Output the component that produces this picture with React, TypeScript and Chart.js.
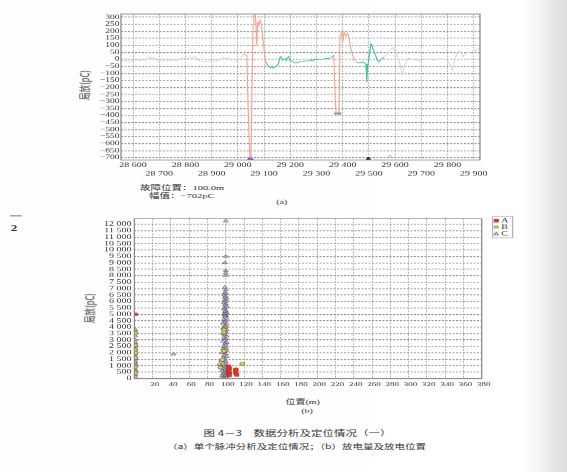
import React, { useEffect, useRef } from 'react';
import { Chart, registerables } from 'chart.js';

Chart.register(...registerables);

// The scanned page is squeezed vertically; we lay out in "logical" units and scale Y.
const SY = 0.66;
const PAGE_W = 567;
const PAGE_H = 472 / SY;

const SERIF = '"Liberation Serif", "Times New Roman", serif';
const MIXED = '"Liberation Serif", "Noto Sans CJK SC", serif';
const CJK = '"Noto Sans CJK SC", "Liberation Serif", sans-serif';
const INK = '#333';

// ---------------- Chart (a): single pulse trace ----------------
const traceXTicks = [28600, 28700, 28800, 28900, 29000, 29100, 29200, 29300, 29400, 29500, 29600, 29700, 29800, 29900];
const traceYTicks = [300, 250, 200, 150, 100, 50, 0, -50, -100, -150, -200, -250, -300, -350, -400, -450, -500, -550, -600, -650, -700];

const fadedLeftX = [28554, 28565, 28575, 28585, 28595, 28605, 28615, 28625, 28635, 28645, 28655, 28662, 28670, 28678, 28686, 28695, 28705, 28715, 28725, 28735, 28745, 28755, 28765, 28775, 28785, 28795, 28805, 28815, 28825, 28835, 28845, 28855, 28865, 28875, 28885, 28895, 28905, 28915, 28925, 28935, 28945, 28955, 28965, 28975, 28985, 28995, 29005, 29015, 29022];
const fadedLeftY = [-8, -14, -6, -15, -7, -12, -2, -10, 0, -8, 8, 18, 6, 14, 0, -10, -15, -8, -13, -4, -11, -2, -8, 2, 6, 12, 0, 16, 8, 20, 4, -14, -20, -10, -18, -8, -16, -4, -12, 6, 16, 4, 12, -6, 2, -12, 4, 20, 35];

const pulse1X = [29022, 29034, 29040, 29046, 29050, 29054, 29058, 29061, 29066, 29070, 29072, 29075, 29079, 29082, 29085, 29089, 29093, 29097, 29102, 29107];
const pulse1Y = [35, 30, -400, -702, -702, -200, 250, 360, 360, 200, 100, 270, 240, 260, 280, 250, 200, 120, 40, -20];

const mid1X = [29107, 29116, 29125, 29130, 29135, 29145, 29154, 29160, 29164, 29170, 29179, 29185, 29189, 29194, 29198, 29207, 29217, 29230, 29240, 29249, 29260, 29268, 29280, 29287, 29296, 29306, 29315, 29325, 29338, 29345, 29351, 29361, 29366];
const mid1Y = [-20, -45, -60, -50, -62, -50, -35, 10, 20, -5, 5, -8, 15, 20, -5, -15, -25, -20, -15, -18, -10, -12, -5, -8, 0, -3, 2, 0, 8, 5, 12, 18, 30];

const pulse2X = [29366, 29372, 29375, 29381, 29386, 29390, 29396, 29400, 29405, 29412, 29419, 29425, 29430, 29438, 29447, 29453];
const pulse2Y = [30, -300, -385, -385, -380, 170, 190, 120, 195, 165, 185, 150, 80, 30, -10, -20];

const mid2X = [29453, 29466, 29475, 29481, 29489, 29492, 29494, 29498, 29504, 29508, 29513, 29519, 29527, 29533, 29538, 29545, 29552, 29557];
const mid2Y = [-20, -25, -18, -22, -35, -160, -70, -20, 60, 110, 90, 55, 20, -10, -20, 0, 5, 15];

const fadedRightX = [29557, 29565, 29573, 29583, 29592, 29605, 29618, 29628, 29637, 29650, 29669, 29694, 29720, 29745, 29771, 29796, 29811, 29819, 29828, 29837, 29847, 29860, 29872, 29885, 29898, 29911, 29924];
const fadedRightY = [15, 30, 45, 70, 85, 40, -30, -110, -40, 10, 0, -10, 5, -5, 5, 0, -40, -80, 0, 50, 60, 20, 45, 50, 40, 70, 80];

const markerX = [29048, 29381, 29498, 29580];
const markerY = [-708, -386, -708, -694];

// ---------------- Chart (b): discharge magnitude vs position ----------------
const posTicks = [0, 20, 40, 60, 80, 100, 120, 140, 160, 180, 200, 220, 240, 260, 280, 300, 320, 340, 360, 380];
const chargeTicks = [0, 500, 1000, 1500, 2000, 2500, 3000, 3500, 4000, 4500, 5000, 5500, 6000, 6500, 7000, 7500, 8000, 8500, 9000, 9500, 10000, 10500, 11000, 11500, 12000];

const aX = [1, 103, 104, 103, 104, 103, 104, 111, 111, 111, 112];
const aY = [5000, 950, 800, 650, 500, 350, 250, 700, 550, 400, 280];

const bX = [1, 1, 1, 1, 1, 1, 1, 98, 98, 98, 96, 94, 111, 118];
const bY = [3540, 2600, 2200, 2000, 1600, 900, 450, 3800, 3600, 2150, 1450, 850, 720, 1150];

const cX = [
  1, 1, 1, 1, 1, 1, 1, 1, 1, 1, 1, 1, 1, 1, 1, 1, 1,
  43,
  100, 100, 99, 100, 100, 100,
  99, 100, 99, 100, 98, 100, 99, 101, 99, 100, 98, 100, 99, 101, 99, 98, 100, 99, 101, 98,
  100, 99, 101, 98, 100, 99, 97, 101, 99, 100, 97, 101, 99, 100, 97, 99, 101, 98, 100, 99,
  97, 101, 99, 100, 98, 100, 97, 101, 99, 96, 100, 98, 101, 97, 99, 95, 100, 97, 93, 101,
  98, 95, 100, 97, 102, 99, 96, 101, 98, 100, 97, 102, 99, 96, 101, 98, 100, 97, 99, 100,
];
const cY = [
  3800, 3600, 3300, 3000, 2800, 2500, 2300, 1900, 1700, 1500, 1300, 1150, 1000, 700, 600, 300, 150,
  1900,
  12250, 9500, 9000, 8400, 8200, 8000,
  7100, 6900, 6700, 6600, 6500, 6400, 6300, 6200, 6100, 6000, 5900, 5800, 5700, 5600, 5500, 5400, 5300, 5200, 5100, 5000,
  4900, 4800, 4700, 4600, 4500, 4400, 4300, 4200, 4100, 4000, 3900, 3800, 3700, 3600, 3500, 3400, 3300, 3200, 3100, 3000,
  2900, 2800, 2700, 2600, 2500, 2400, 2300, 2200, 2100, 2000, 1900, 1800, 1700, 1600, 1500, 1400, 1300, 1200, 1100, 1050,
  1000, 950, 900, 800, 750, 700, 600, 550, 500, 400, 350, 300, 250, 200, 150, 100, 50, 20, 4950, 5050,
];

// ---------------- helpers ----------------
const zip = (xs: number[], ys: number[]) => xs.map((x, i) => ({ x, y: ys[i] }));

const spaced = (v: number) => {
  const a = Math.abs(v);
  const s = a >= 1000 ? `${Math.floor(a / 1000)} ${String(a % 1000).padStart(3, '0')}` : String(a);
  return (v < 0 ? '\u2212' : '') + s;
};

const framePlugin = {
  id: 'frame',
  afterDraw(chart: any) {
    const { ctx, chartArea: a } = chart;
    ctx.save();
    ctx.strokeStyle = '#8c8c8c';
    ctx.lineWidth = 1.3;
    ctx.setLineDash([]);
    ctx.strokeRect(a.left, a.top, a.right - a.left, a.bottom - a.top);
    ctx.restore();
  },
};

const boxLegendPlugin = {
  id: 'boxLegend',
  afterDraw(chart: any) {
    const ctx = chart.ctx as CanvasRenderingContext2D;
    const bx = 432.7, by = 28.3, bw = 20, bh = 31.9;
    ctx.save();
    ctx.fillStyle = '#fff';
    ctx.fillRect(bx, by, bw, bh);
    ctx.strokeStyle = '#a0a0a0';
    ctx.lineWidth = 1;
    ctx.strokeRect(bx, by, bw, bh);
    const rows = [34.4, 44, 54];
    chart.data.datasets.forEach((ds: any, i: number) => {
      const y = rows[i];
      const mx = bx + 3.6;
      ctx.fillStyle = ds.backgroundColor;
      ctx.strokeStyle = ds.borderColor;
      ctx.lineWidth = 0.8;
      ctx.beginPath();
      if (ds.pointStyle === 'rect') {
        ctx.rect(mx - 2, y - 2.2, 4, 4.4);
      } else if (ds.pointStyle === 'circle') {
        ctx.arc(mx, y, 2, 0, Math.PI * 2);
      } else {
        ctx.moveTo(mx, y - 2.6);
        ctx.lineTo(mx + 2.3, y + 2);
        ctx.lineTo(mx - 2.3, y + 2);
        ctx.closePath();
      }
      ctx.fill();
      ctx.stroke();
      ctx.fillStyle = INK;
      ctx.font = `10px ${SERIF}`;
      ctx.textBaseline = 'middle';
      ctx.textAlign = 'left';
      ctx.fillText(ds.label, bx + 8.5, y);
    });
    ctx.restore();
  },
};

const traceSeg = (xs: number[], ys: number[], color: string) => ({
  data: zip(xs, ys),
  borderColor: color,
  backgroundColor: color,
  borderWidth: 1.1,
  pointRadius: 0,
  tension: 0,
  fill: false,
});

const Txt = ({ x, y, size, font, children, align = 'center', rotate = false, weight = 'normal' }: any) => (
  <div
    style={{
      position: 'absolute',
      left: x,
      top: y,
      transform:
        (align === 'center' ? 'translate(-50%, -50%)' : 'translate(0, -50%)') + (rotate ? ' rotate(-90deg)' : ''),
      fontSize: size,
      fontFamily: font,
      fontWeight: weight,
      color: INK,
      whiteSpace: 'nowrap',
      lineHeight: 1,
    }}
  >
    {children}
  </div>
);

export default function App() {
  const refA = useRef<HTMLCanvasElement>(null);
  const refB = useRef<HTMLCanvasElement>(null);

  useEffect(() => {
    const tickFont = (size: number, lh = 1.2) => ({ family: SERIF, size, lineHeight: lh });

    const markerStyles = [
      { pointStyle: 'triangle', pointRadius: 3.5, backgroundColor: '#7468d0', borderColor: '#5a4fb0', borderWidth: 1 },
      { pointStyle: 'line', pointRadius: 3.5, backgroundColor: '#8a6cc8', borderColor: '#8a6cc8', borderWidth: 3 },
      { pointStyle: 'triangle', pointRadius: 2.5, backgroundColor: '#222', borderColor: '#222', borderWidth: 1 },
      { pointStyle: 'triangle', pointRadius: 3, backgroundColor: 'rgba(0,0,0,0)', borderColor: '#a8a8a8', borderWidth: 0.8 },
    ];

    const chartA = new Chart(refA.current as HTMLCanvasElement, {
      type: 'line',
      data: {
        datasets: [
          traceSeg(fadedLeftX, fadedLeftY, '#cadfce'),
          traceSeg(pulse1X, pulse1Y, '#f3a292'),
          traceSeg(mid1X, mid1Y, '#35c093'),
          traceSeg(pulse2X, pulse2Y, '#f3a292'),
          traceSeg(mid2X, mid2Y, '#35c093'),
          traceSeg(fadedRightX, fadedRightY, '#cadfce'),
          ...markerX.map((x, i) => ({
            data: [{ x, y: markerY[i] }],
            showLine: false,
            ...markerStyles[i],
          })),
        ] as any,
      },
      options: {
        animation: false,
        responsive: false,
        events: [],
        layout: { padding: { left: 0, top: 21.2, right: 20, bottom: 1.6 } },
        plugins: { legend: { display: false }, tooltip: { enabled: false } },
        scales: {
          x: {
            type: 'linear',
            min: 28554,
            max: 29924,
            afterBuildTicks: (s: any) => {
              s.ticks = traceXTicks.map((v) => ({ value: v }));
            },
            afterFit: (s: any) => {
              s.height = 28;
            },
            grid: { color: '#9c9c9c', lineWidth: 0.8, drawTicks: false },
            border: { display: false, dash: [2.5, 2] },
            ticks: {
              autoSkip: false,
              maxRotation: 0,
              minRotation: 0,
              padding: 1,
              color: INK,
              font: tickFont(10, 1.32),
              callback: (v: any, i: number) => (i % 2 === 0 ? spaced(Number(v)) : ['', spaced(Number(v))]),
            },
          },
          y: {
            type: 'linear',
            min: -717,
            max: 323,
            afterBuildTicks: (s: any) => {
              s.ticks = traceYTicks.map((v) => ({ value: v }));
            },
            afterFit: (s: any) => {
              s.width = 61;
            },
            grid: { color: '#8a8a8a', lineWidth: 1.2, drawTicks: false },
            border: { display: false, dash: [2, 1.5] },
            ticks: {
              autoSkip: false,
              padding: 1.5,
              color: INK,
              font: tickFont(9.5, 1),
              callback: (v: any) => spaced(Number(v)),
            },
          },
        },
      } as any,
      plugins: [framePlugin],
    });

    const chartB = new Chart(refB.current as HTMLCanvasElement, {
      type: 'scatter',
      data: {
        datasets: [
          {
            label: 'A',
            data: zip(aX, aY),
            pointStyle: 'rect',
            pointRadius: 3,
            backgroundColor: '#e8392b',
            borderColor: '#b02418',
            borderWidth: 0.6,
          },
          {
            label: 'B',
            data: zip(bX, bY),
            pointStyle: 'circle',
            pointRadius: 2.4,
            backgroundColor: '#f3e01a',
            borderColor: '#555',
            borderWidth: 0.8,
          },
          {
            label: 'C',
            data: zip(cX, cY),
            pointStyle: 'triangle',
            pointRadius: 2.8,
            backgroundColor: 'rgba(200,194,214,0.6)',
            borderColor: '#5a506e',
            borderWidth: 0.8,
          },
        ] as any,
      },
      options: {
        animation: false,
        responsive: false,
        events: [],
        layout: { padding: { left: 0, top: 31.1, right: 38.3, bottom: 0.5 } },
        plugins: { legend: { display: false }, tooltip: { enabled: false } },
        scales: {
          x: {
            type: 'linear',
            min: 0,
            max: 380,
            afterBuildTicks: (s: any) => {
              s.ticks = posTicks.map((v) => ({ value: v }));
            },
            afterFit: (s: any) => {
              s.height = 18;
            },
            grid: { color: '#9c9c9c', lineWidth: 0.8, drawTicks: false },
            border: { display: false, dash: [2.5, 2] },
            ticks: {
              autoSkip: false,
              maxRotation: 0,
              minRotation: 0,
              padding: 4,
              labelOffset: 2,
              color: INK,
              font: tickFont(9, 1.2),
              callback: (v: any) => (Number(v) === 0 ? '' : String(v)),
            },
          },
          y: {
            type: 'linear',
            min: 0,
            max: 12450,
            afterBuildTicks: (s: any) => {
              s.ticks = chargeTicks.map((v) => ({ value: v }));
            },
            afterFit: (s: any) => {
              s.width = 74.4;
            },
            grid: { color: '#8a8a8a', lineWidth: 1.2, drawTicks: false },
            border: { display: false, dash: [2, 1.5] },
            ticks: {
              autoSkip: false,
              padding: 3,
              color: INK,
              font: tickFont(10, 1),
              callback: (v: any) => spaced(Number(v)),
            },
          },
        },
      } as any,
      plugins: [framePlugin, boxLegendPlugin],
    });

    return () => {
      chartA.destroy();
      chartB.destroy();
    };
  }, []);

  return (
    <div
      style={{
        position: 'absolute',
        left: 0,
        top: 0,
        width: PAGE_W,
        height: PAGE_H,
        overflow: 'hidden',
        transform: `scaleY(${SY})`,
        transformOrigin: '0 0',
        background:
          'linear-gradient(to right, #fdfdfd 0px, #ffffff 520px, #f4f4f4 540px, #e6e6e6 553px, #dedede 567px)',
      }}
    >
      {/* margin marks */}
      <div style={{ position: 'absolute', left: 10, top: 326, width: 12, height: 1.5, background: '#9a9a9a' }} />
      <Txt x={14} y={346} size={13} font={SERIF} weight="bold">
        2
      </Txt>

      {/* chart (a) */}
      <canvas
        ref={refA}
        width={440}
        height={272}
        style={{ position: 'absolute', left: 60, top: 0, width: 440, height: 272 }}
      />
      <Txt x={85} y={128.8} size={11.5} font={CJK} rotate>
        局放(pC)
      </Txt>
      <Txt x={140} y={284.8} size={10.5} font={MIXED} align="left">
        故障位置：100.0m
      </Txt>
      <Txt x={149} y={297} size={10.5} font={MIXED} align="left">
        幅值：−702pC
      </Txt>
      <Txt x={281.7} y={305.6} size={10} font={SERIF}>
        (a)
      </Txt>

      {/* chart (b) */}
      <canvas
        ref={refB}
        width={460}
        height={292}
        style={{ position: 'absolute', left: 60, top: 300, width: 460, height: 292 }}
      />
      <Txt x={90} y={466.7} size={11.5} font={CJK} rotate>
        局放(pC)
      </Txt>
      <Txt x={302.7} y={608.6} size={10} font={MIXED}>
        位置(m)
      </Txt>
      <Txt x={307} y={622.7} size={10} font={SERIF}>
        (b)
      </Txt>

      {/* captions */}
      <Txt x={297.5} y={656.6} size={11.5} font={CJK}>
        图 4－3　数据分析及定位情况（一）
      </Txt>
      <Txt x={296.5} y={676.8} size={10.5} font={CJK}>
        （a）单个脉冲分析及定位情况；（b）放电量及放电位置
      </Txt>
    </div>
  );
}
